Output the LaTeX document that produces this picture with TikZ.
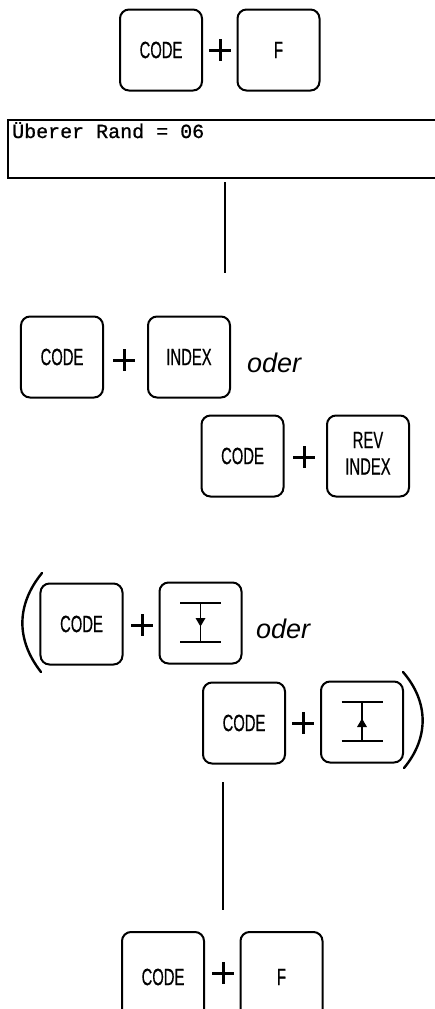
\documentclass[tikz,border=0pt]{standalone}
\usepackage{fontspec}
\usepackage{graphicx}
\setsansfont{Liberation Sans}[FakeBold=0.6]
\newfontfamily\scrmono{Liberation Mono}[FakeBold=0.9]
\newfontfamily\odersans{Liberation Sans}
\newcommand{\keyfnt}{\sffamily\fontsize{23.5bp}{26.5bp}\selectfont}
\newcommand{\kt}[1]{\scalebox{0.63}[1]{#1}}
\tikzset{
  key/.style={draw, line width=2bp, rounded corners=9bp, minimum width=82bp,
    minimum height=81bp, inner sep=0pt, font=\keyfnt},
  plussign/.style={minimum size=22bp, inner sep=0pt,
    path picture={\draw[line width=3bp]
      (path picture bounding box.north) -- (path picture bounding box.south)
      (path picture bounding box.west) -- (path picture bounding box.east);}},
  odertext/.style={inner sep=0pt, anchor=base west, font=\odersans\itshape\fontsize{27bp}{30bp}\selectfont},
  flowline/.style={line width=1.6bp},
  symline/.style={line width=2.2bp},
  paren/.style={line width=2.4bp, line cap=round}
}
\begin{document}
\begin{tikzpicture}[x=1bp,y=-1bp]
\useasboundingbox (0,0) rectangle (435,1009);

% top row
\node[key] (c1) at (161,50) {\kt{CODE}};
\node[plussign] (p1) at (220,50) {};
\node[key] (f1) at (278.5,50) {\kt{F}};

% screen line
\draw[line width=1.6bp] (436,120) -- (8,120) -- (8,178) -- (436,178);
\node[inner sep=0pt, anchor=base west, font=\scrmono\fontsize{20bp}{22bp}\selectfont] (scr) at (12,138) {Überer Rand = 06};
\coordinate (l1a) at (225,182);
\coordinate (l1b) at (225,273);
\draw[flowline] (l1a) -- (l1b);

% row 2
\node[key] (c2) at (62,357) {\kt{CODE}};
\node[plussign] (p2) at (124,360) {};
\node[key] (i2) at (189,357) {\kt{INDEX}};
\node[odertext] (o2) at (247,372) {oder};

% row 3
\node[key] (c3) at (242.5,456) {\kt{CODE}};
\node[plussign] (p3) at (304,457) {};
\node[key] (r3) at (368,456) {\kt{\begin{tabular}{@{}c@{}}REV\\INDEX\end{tabular}}};

% row 4
\node[key] (c4) at (81.5,624) {\kt{CODE}};
\node[plussign] (p4) at (142,625) {};
\node[key] (s4) at (200.5,623) {};
\node[odertext] (o4) at (256,638) {oder};
\begin{scope}[shift={(s4.center)}]
  \draw[symline] (-20.5,-20) -- (20.5,-20);
  \draw[symline] (-20.5,19) -- (20.5,19);
  \draw[line width=1.8bp] (0,-20) -- (0,19);
  \fill (-5,-5) -- (5,-5) -- (0,3.5) -- cycle;
\end{scope}

% row 5
\node[key] (c5) at (244,723) {\kt{CODE}};
\node[plussign] (p5) at (303,723) {};
\node[key] (s5) at (362,722) {};
\begin{scope}[shift={(s5.center)}]
  \draw[symline] (-20.5,-20) -- (20.5,-20);
  \draw[symline] (-20.5,19) -- (20.5,19);
  \draw[line width=1.8bp] (0,-20) -- (0,19);
  \fill (-5,5) -- (5,5) -- (0,-3.5) -- cycle;
\end{scope}

% parentheses
\draw[paren] (42,573) .. controls (16,605) and (16,640) .. (41,672);
\draw[paren] (403,672) .. controls (429,702) and (429,738) .. (404,768);

% line 2
\coordinate (l2a) at (223,782);
\coordinate (l2b) at (223,910);
\draw[flowline] (l2a) -- (l2b);

% bottom row
\node[key, minimum height=90bp] (c6) at (163,977) {\kt{CODE}};
\node[plussign] (p6) at (223,973) {};
\node[key, minimum height=90bp] (f6) at (281.5,977) {\kt{F}};
\end{tikzpicture}
\end{document}
